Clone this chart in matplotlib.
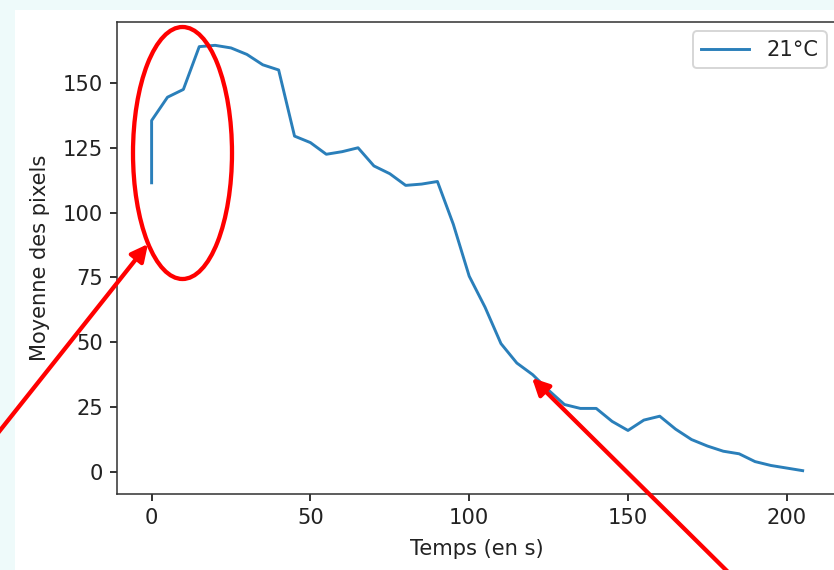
import matplotlib
matplotlib.use("Agg")
import matplotlib.pyplot as plt
from matplotlib.patches import Ellipse, FancyArrowPatch, Rectangle

# Data
temps = [0, 0, 5, 10, 15, 20, 25, 30, 35, 40, 45, 50, 55, 60, 65, 70, 75, 80, 85, 90,
         95, 100, 105, 110, 115, 120, 125, 130, 135, 140, 145, 150, 155, 160, 165,
         170, 175, 180, 185, 190, 195, 200, 205]
moyenne = [111.5, 135.5, 144.5, 147.5, 164, 164.5, 163.5, 161, 157, 155, 129.5, 127,
           122.5, 123.5, 125, 118, 115, 110.5, 111, 112, 95.5, 75.5, 63.5, 49.5, 42,
           37.5, 31.5, 26, 24.5, 24.5, 19.5, 16, 20, 21.5, 16.5, 12.5, 10, 8, 7, 4,
           2.5, 1.5, 0.5]
serie_label = "21°C"
xlabel = "Temps (en s)"
ylabel = "Moyenne des pixels"

plt.rcParams["font.size"] = 10.8
plt.rcParams["text.color"] = "#222222"
plt.rcParams["axes.labelcolor"] = "#222222"
plt.rcParams["xtick.labelcolor"] = "#222222"
plt.rcParams["ytick.labelcolor"] = "#222222"
plt.rcParams["axes.edgecolor"] = "#333333"

W, H = 834, 570
DPI = 140
fig = plt.figure(figsize=(W / DPI, H / DPI), dpi=DPI, facecolor="#eefafa")

# white figure area (screenshot of notebook output)
fig.patches.append(Rectangle((15 / W, 0), 1, 1 - 10 / H, transform=fig.transFigure,
                             facecolor="white", edgecolor="none", zorder=-5))

left, right, top, bottom = 117, 836, 22, 494
ax = fig.add_axes([left / W, 1 - bottom / H, (right - left) / W, (bottom - top) / H])
ax.set_zorder(1)
ax.plot(temps, moyenne, color="#2a7fba", lw=1.5, label=serie_label)
ax.set_xlim(-10.9, 215.5)
ax.set_ylim(-8.5, 173.5)
ax.set_xticks([0, 50, 100, 150, 200])
ax.set_yticks([0, 25, 50, 75, 100, 125, 150])
ax.set_xlabel(xlabel, labelpad=6)
ax.set_ylabel(ylabel, labelpad=7)
ax.legend(loc="upper right", borderaxespad=0.45, handlelength=2.3)


def px(x, y):
    return (x / W, 1 - y / H)


# red annotations
ell = Ellipse(px(182.5, 153), 99 / W, 252 / H, transform=fig.transFigure,
              fill=False, edgecolor="red", lw=2.2, zorder=10)
fig.patches.append(ell)

for (x0, y0), (x1, y1) in [((-2, 433), (148, 244)), ((728, 572), (532, 378))]:
    arr = FancyArrowPatch(px(x0, y0), px(x1, y1), transform=fig.transFigure,
                          arrowstyle="-|>", mutation_scale=18, color="red", lw=2.2,
                          shrinkA=0, shrinkB=0, zorder=10)
    fig.patches.append(arr)

fig.savefig("out.png", dpi=DPI, facecolor=fig.get_facecolor())
